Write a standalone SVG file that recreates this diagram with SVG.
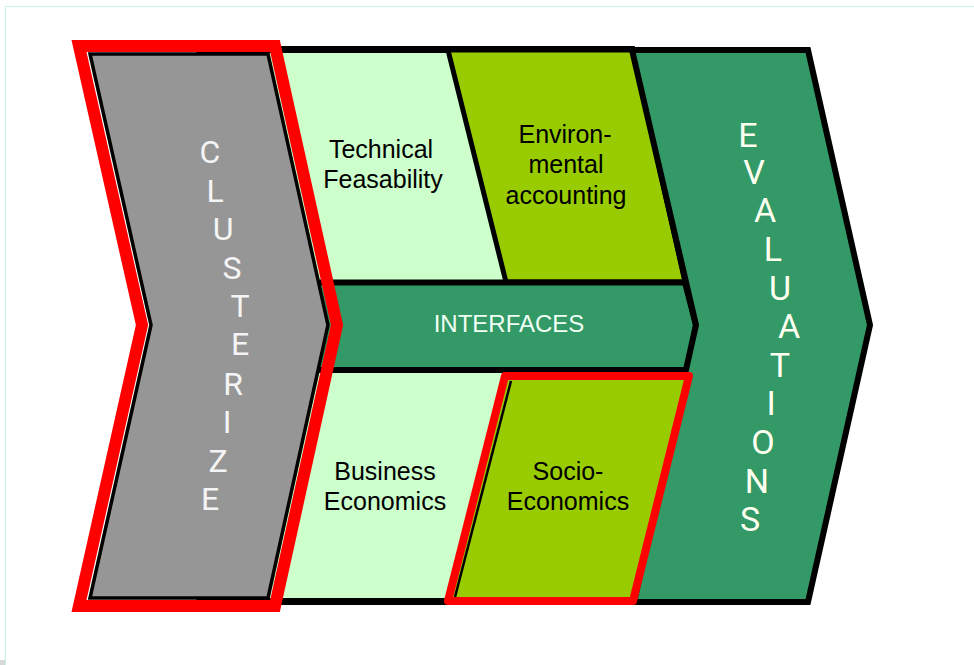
<svg xmlns="http://www.w3.org/2000/svg" width="974" height="665" viewBox="0 0 974 665">
<style>
.lbl{font-family:"Liberation Sans",Arial,sans-serif;font-size:25px;fill:#000;text-anchor:middle}
.vc{font-family:Roboto,"Liberation Sans",sans-serif;font-size:32px;fill:#F4F4F4;text-anchor:middle}
.ve{font-family:Roboto,"Liberation Sans",sans-serif;font-size:34px;fill:#FFFFF0;text-anchor:middle}
.blk{stroke:#000;stroke-linejoin:miter}
</style>
<rect x="0" y="0" width="974" height="665" fill="#fff"/>
<path d="M5.5 665V6.5H974" fill="none" stroke="#C8F2E6" stroke-width="1"/>
<rect x="0" y="660" width="5" height="5" fill="#D8D8D8"/>

<g id="frame">
<polygon class="blk" points="200,49.5 632,49.5 696,325 634,601.5 200,601.5" fill="#CCFFCC" stroke-width="7"/>
</g>
<g id="environmental-accounting">
<polygon class="blk" points="448,50 633,50 685,282 506,282" fill="#99CC00" stroke-width="5"/>
<text class="lbl" x="565" y="143">Environ-</text>
<text class="lbl" x="566" y="173">mental</text>
<text class="lbl" x="566" y="204">accounting</text>
</g>
<g id="technical-feasability">
<text class="lbl" x="381" y="158">Technical</text>
<text class="lbl" x="383" y="188">Feasability</text>
</g>
<g id="interfaces">
<polygon class="blk" points="200,282.5 685,282.5 696,325 688,370 200,370" fill="#339966" stroke-width="6"/>
<text x="509" y="332" font-family="Liberation Sans,Arial,sans-serif" font-size="24" fill="#F0FFF4" text-anchor="middle">INTERFACES</text>
</g>
<g id="evaluations">
<polygon class="blk" points="632,50 808,50 870,325 808,602 634,602 696,325" fill="#339966" stroke-width="6"/>
<text class="ve" x="748" y="147">E</text>
<text class="ve" x="754" y="184">V</text>
<text class="ve" x="765" y="222">A</text>
<text class="ve" x="773" y="261">L</text>
<text class="ve" x="780" y="300">U</text>
<text class="ve" x="789" y="338">A</text>
<text class="ve" x="780" y="377">T</text>
<text class="ve" x="771" y="415">I</text>
<text class="ve" x="763" y="454">O</text>
<text class="ve" x="757" y="493">N</text>
<text class="ve" x="750" y="531">S</text>
</g>
<g id="business-economics">
<text class="lbl" x="385" y="480">Business</text>
<text class="lbl" x="385" y="510">Economics</text>
</g>
<g id="socio-economics">
<polygon points="505,376 689,376 633,601 448,601" fill="#99CC00" stroke="#FF0000" stroke-width="8" stroke-linejoin="round"/>
<line x1="511" y1="381" x2="455" y2="597" stroke="#000" stroke-width="2.5"/>
<text class="lbl" x="568" y="480">Socio-</text>
<text class="lbl" x="568" y="510">Economics</text>
</g>
<g id="clusterize">
<polygon class="blk" points="90,54 268,54 328,325 268,598 90,598 151,325" fill="#969696" stroke-width="3.5"/>
<polygon points="79,46 275,46 337,325 275,606 79,606 142,325" fill="none" stroke="#FF0000" stroke-width="12" stroke-linejoin="miter" stroke-miterlimit="10"/>
<text class="vc" x="210" y="163">C</text>
<text class="vc" x="215" y="202">L</text>
<text class="vc" x="223" y="240">U</text>
<text class="vc" x="232" y="279">S</text>
<text class="vc" x="240" y="317">T</text>
<text class="vc" x="240" y="355">E</text>
<text class="vc" x="233" y="395">R</text>
<text class="vc" x="227" y="433">I</text>
<text class="vc" x="218" y="472">Z</text>
<text class="vc" x="210" y="510">E</text>
</g>
</svg>
